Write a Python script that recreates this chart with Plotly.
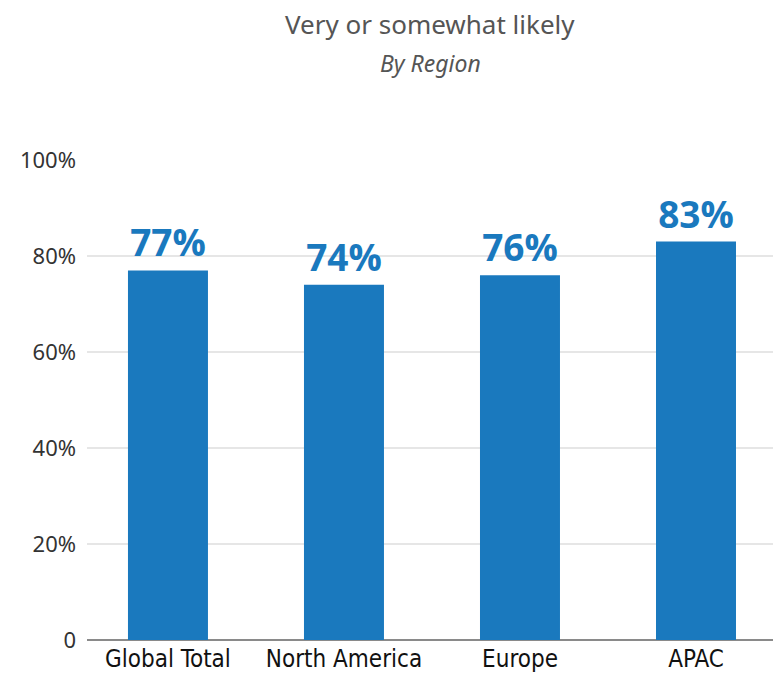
import plotly.graph_objects as go

# Share of respondents answering "very or somewhat likely", by region
regions = ["Global Total", "North America", "Europe", "APAC"]
likely_pct = [77, 74, 76, 83]

y_tick_vals = [0, 20, 40, 60, 80, 100]
y_tick_text = ["0", "20%", "40%", "60%", "80%", "100%"]

bar_color = "#1a79be"

fig = go.Figure(
    go.Bar(
        x=list(range(len(regions))),
        y=likely_pct,
        marker=dict(color=bar_color, line=dict(width=0)),
        width=0.4545,
        text=[f"{v}%" for v in likely_pct],
        textposition="outside",
        textfont=dict(family="Open Sans, Noto Sans, sans-serif", size=37, color=bar_color, weight="bold"),
        cliponaxis=False,
        hoverinfo="skip",
    )
)

fig.update_layout(
    width=773,
    height=675,
    margin=dict(l=87, r=0, t=160, b=35),
    paper_bgcolor="white",
    plot_bgcolor="white",
    showlegend=False,
    xaxis=dict(
        range=[-0.46, 3.4375],
        tickvals=list(range(len(regions))),
        ticktext=regions,
        tickfont=dict(family="Liberation Sans Narrow, DejaVu Sans Condensed, sans-serif", size=24, color="#111111"),
        showgrid=False,
        showline=False,
        ticks="",
        zeroline=False,
        ticklabelstandoff=2,
        automargin=False,
    ),
    yaxis=dict(
        range=[0, 100],
        tickvals=y_tick_vals,
        ticktext=y_tick_text,
        tickfont=dict(family="Noto Sans, sans-serif", size=22, color="#333333"),
        showgrid=True,
        gridcolor="#e6e6e6",
        gridwidth=2,
        zeroline=True,
        zerolinecolor="#8a8a8a",
        zerolinewidth=2,
        showline=False,
        ticks="",
        ticklabelstandoff=10,
        automargin=False,
    ),
    annotations=[
        dict(
            text="Very or somewhat likely",
            xref="paper", yref="paper", x=0.5, y=1.283,
            xanchor="center", yanchor="middle", showarrow=False,
            font=dict(family="Noto Sans, sans-serif", size=26, color="#555555"),
        ),
        dict(
            text="<i>By Region</i>",
            xref="paper", yref="paper", x=0.5, y=1.203,
            xanchor="center", yanchor="middle", showarrow=False,
            font=dict(family="Noto Sans, sans-serif", size=23, color="#555555"),
        ),
    ],
)

fig.write_html("out.html")
